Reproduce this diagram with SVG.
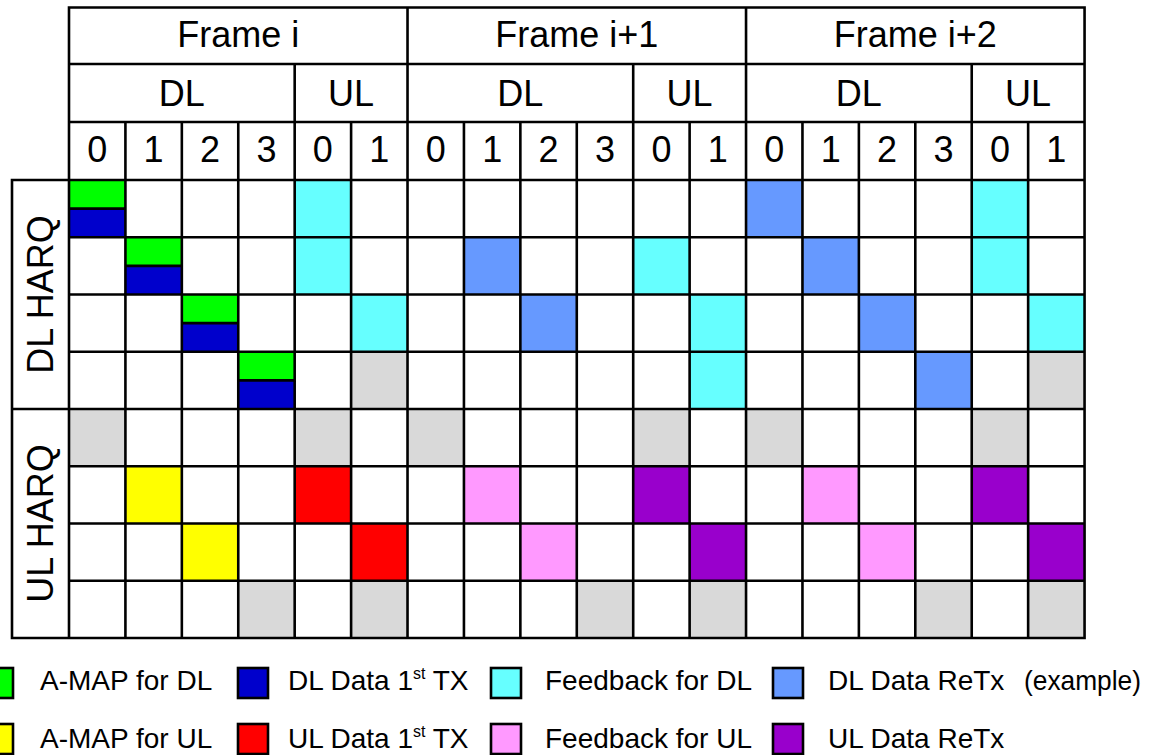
<svg xmlns="http://www.w3.org/2000/svg" width="1149" height="755" viewBox="0 0 1149 755">
<style>
text{font-family:"Liberation Sans",Arial,sans-serif;fill:#000}
.h{font-size:36px;text-anchor:middle}
.lg{font-size:28px}
.sup{font-size:16px}
.grid{stroke:#000;stroke-width:2.6;fill:none;stroke-linecap:square}
.g{fill:#00FF00}.b{fill:#0000CC}.c{fill:#66FFFF}.lb{fill:#6699FF}.gr{fill:#D9D9D9}
.y{fill:#FFFF00}.r{fill:#FF0000}.p{fill:#FF99FF}.pu{fill:#9900CC}
.sq{stroke:#000;stroke-width:2.6}
</style>
<rect width="1149" height="755" fill="#fff"/>
<g id="cells">
<!-- Row 0 -->
<rect class="g" x="69" y="180" width="56.42" height="28.6"/><rect class="b" x="69" y="208.6" width="56.42" height="28.65"/>
<rect class="c" x="294.68" y="180" width="56.42" height="57.25"/>
<rect class="lb" x="746.04" y="180" width="56.42" height="57.25"/>
<rect class="c" x="971.72" y="180" width="56.42" height="57.25"/>
<!-- Row 1 -->
<rect class="g" x="125.42" y="237.25" width="56.42" height="28.6"/><rect class="b" x="125.42" y="265.85" width="56.42" height="28.65"/>
<rect class="c" x="294.68" y="237.25" width="56.42" height="57.25"/>
<rect class="lb" x="463.94" y="237.25" width="56.42" height="57.25"/>
<rect class="c" x="633.2" y="237.25" width="56.42" height="57.25"/>
<rect class="lb" x="802.46" y="237.25" width="56.42" height="57.25"/>
<rect class="c" x="971.72" y="237.25" width="56.42" height="57.25"/>
<!-- Row 2 -->
<rect class="g" x="181.84" y="294.5" width="56.42" height="28.6"/><rect class="b" x="181.84" y="323.1" width="56.42" height="28.65"/>
<rect class="c" x="351.1" y="294.5" width="56.42" height="57.25"/>
<rect class="lb" x="520.36" y="294.5" width="56.42" height="57.25"/>
<rect class="c" x="689.62" y="294.5" width="56.42" height="57.25"/>
<rect class="lb" x="858.88" y="294.5" width="56.42" height="57.25"/>
<rect class="c" x="1028.14" y="294.5" width="56.42" height="57.25"/>
<!-- Row 3 -->
<rect class="g" x="238.26" y="351.75" width="56.42" height="28.6"/><rect class="b" x="238.26" y="380.35" width="56.42" height="28.65"/>
<rect class="gr" x="351.1" y="351.75" width="56.42" height="57.25"/>
<rect class="c" x="689.62" y="351.75" width="56.42" height="57.25"/>
<rect class="lb" x="915.3" y="351.75" width="56.42" height="57.25"/>
<rect class="gr" x="1028.14" y="351.75" width="56.42" height="57.25"/>
<!-- Row 4 -->
<rect class="gr" x="69" y="409" width="56.42" height="57.25"/>
<rect class="gr" x="294.68" y="409" width="56.42" height="57.25"/>
<rect class="gr" x="407.52" y="409" width="56.42" height="57.25"/>
<rect class="gr" x="633.2" y="409" width="56.42" height="57.25"/>
<rect class="gr" x="746.04" y="409" width="56.42" height="57.25"/>
<rect class="gr" x="971.72" y="409" width="56.42" height="57.25"/>
<!-- Row 5 -->
<rect class="y" x="125.42" y="466.25" width="56.42" height="57.25"/>
<rect class="r" x="294.68" y="466.25" width="56.42" height="57.25"/>
<rect class="p" x="463.94" y="466.25" width="56.42" height="57.25"/>
<rect class="pu" x="633.2" y="466.25" width="56.42" height="57.25"/>
<rect class="p" x="802.46" y="466.25" width="56.42" height="57.25"/>
<rect class="pu" x="971.72" y="466.25" width="56.42" height="57.25"/>
<!-- Row 6 -->
<rect class="y" x="181.84" y="523.5" width="56.42" height="57.25"/>
<rect class="r" x="351.1" y="523.5" width="56.42" height="57.25"/>
<rect class="p" x="520.36" y="523.5" width="56.42" height="57.25"/>
<rect class="pu" x="689.62" y="523.5" width="56.42" height="57.25"/>
<rect class="p" x="858.88" y="523.5" width="56.42" height="57.25"/>
<rect class="pu" x="1028.14" y="523.5" width="56.42" height="57.25"/>
<!-- Row 7 -->
<rect class="gr" x="238.26" y="580.75" width="56.42" height="57.25"/>
<rect class="gr" x="351.1" y="580.75" width="56.42" height="57.25"/>
<rect class="gr" x="576.78" y="580.75" width="56.42" height="57.25"/>
<rect class="gr" x="689.62" y="580.75" width="56.42" height="57.25"/>
<rect class="gr" x="915.3" y="580.75" width="56.42" height="57.25"/>
<rect class="gr" x="1028.14" y="580.75" width="56.42" height="57.25"/>
</g>
<g id="grid">
<path class="grid" d="M69 7.5H1084.56 M69 64H1084.56 M69 122H1084.56 M12 180H1084.56 M69 237.25H1084.56 M69 294.5H1084.56 M69 351.75H1084.56 M12 409H1084.56 M69 466.25H1084.56 M69 523.5H1084.56 M69 580.75H1084.56 M12 638H1084.56
M12 180V638 M69 7.5V638 M407.52 7.5V638 M746.04 7.5V638 M1084.56 7.5V638
M294.68 64V638 M633.2 64V638 M971.72 64V638
M125.42 122V638 M181.84 122V638 M238.26 122V638 M351.1 122V638 M463.94 122V638 M520.36 122V638 M576.78 122V638 M689.62 122V638 M802.46 122V638 M858.88 122V638 M915.3 122V638 M1028.14 122V638
M69 208.6H125.42 M125.42 265.85H181.84 M181.84 323.1H238.26 M238.26 380.35H294.68"/>
</g>
<g id="header">
<text class="h" x="238.26" y="47">Frame i</text>
<text class="h" x="576.78" y="47">Frame i+1</text>
<text class="h" x="915.3" y="47">Frame i+2</text>
<text class="h" x="181.84" y="106">DL</text>
<text class="h" x="351.1" y="106">UL</text>
<text class="h" x="520.36" y="106">DL</text>
<text class="h" x="689.62" y="106">UL</text>
<text class="h" x="858.88" y="106">DL</text>
<text class="h" x="1028.14" y="106">UL</text>
<text class="h" x="97.21" y="162">0</text>
<text class="h" x="153.63" y="162">1</text>
<text class="h" x="210.05" y="162">2</text>
<text class="h" x="266.47" y="162">3</text>
<text class="h" x="322.89" y="162">0</text>
<text class="h" x="379.31" y="162">1</text>
<text class="h" x="435.73" y="162">0</text>
<text class="h" x="492.15" y="162">1</text>
<text class="h" x="548.57" y="162">2</text>
<text class="h" x="604.99" y="162">3</text>
<text class="h" x="661.41" y="162">0</text>
<text class="h" x="717.83" y="162">1</text>
<text class="h" x="774.25" y="162">0</text>
<text class="h" x="830.67" y="162">1</text>
<text class="h" x="887.09" y="162">2</text>
<text class="h" x="943.51" y="162">3</text>
<text class="h" x="999.93" y="162">0</text>
<text class="h" x="1056.35" y="162">1</text>
</g>
<g id="row-labels">
<text class="h" transform="translate(53,294.5) rotate(-90)">DL HARQ</text>
<text class="h" transform="translate(53,523.5) rotate(-90)">UL HARQ</text>
</g>
<g id="legend">
<rect class="g sq" x="-17" y="668" width="30" height="30"/>
<text class="lg" x="40" y="690">A-MAP for DL</text>
<rect class="b sq" x="238" y="668" width="30" height="30"/>
<text class="lg" x="288" y="690">DL Data 1<tspan class="sup" dy="-11">st</tspan><tspan dy="11"> TX</tspan></text>
<rect class="c sq" x="491" y="668" width="30" height="30"/>
<text class="lg" x="545" y="690">Feedback for DL</text>
<rect class="lb sq" x="773" y="668" width="30" height="30"/>
<text class="lg" x="828" y="690">DL Data ReTx</text>
<text class="lg" x="1024" y="690" textLength="117" lengthAdjust="spacingAndGlyphs">(example)</text>
<rect class="y sq" x="-17" y="724" width="30" height="30"/>
<text class="lg" x="40" y="748">A-MAP for UL</text>
<rect class="r sq" x="238" y="724" width="30" height="30"/>
<text class="lg" x="288" y="748">UL Data 1<tspan class="sup" dy="-11">st</tspan><tspan dy="11"> TX</tspan></text>
<rect class="p sq" x="491" y="724" width="30" height="30"/>
<text class="lg" x="545" y="748">Feedback for UL</text>
<rect class="pu sq" x="773" y="724" width="30" height="30"/>
<text class="lg" x="828" y="748">UL Data ReTx</text>
</g>
</svg>
